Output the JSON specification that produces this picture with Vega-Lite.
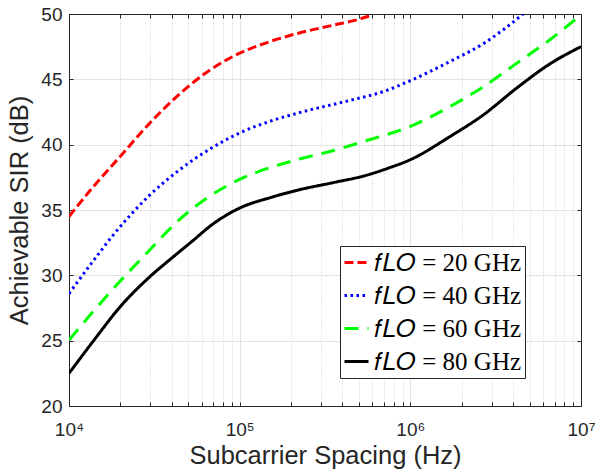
{
  "$schema": "https://vega.github.io/schema/vega-lite/v6.json",
  "width": 512,
  "height": 392,
  "autosize": {"type": "none"},
  "padding": {"left": 69, "top": 14, "right": 23, "bottom": 66},
  "background": "white",
  "config": {
    "view": {"stroke": null},
    "font": "Liberation Sans",
    "axis": {
      "domainColor": "#262626",
      "tickColor": "#262626",
      "labelColor": "#262626",
      "titleColor": "#262626",
      "labelFont": "Liberation Sans",
      "titleFont": "Liberation Sans",
      "titleFontWeight": "normal"
    }
  },
  "data": {
    "values": [
      {"s": "𝑓𝐿𝑂 = 20 GHz", "x": 10000, "y": 34.5},
      {"s": "𝑓𝐿𝑂 = 20 GHz", "x": 14125, "y": 36.9},
      {"s": "𝑓𝐿𝑂 = 20 GHz", "x": 19953, "y": 39.1},
      {"s": "𝑓𝐿𝑂 = 20 GHz", "x": 29512, "y": 41.6},
      {"s": "𝑓𝐿𝑂 = 20 GHz", "x": 44668, "y": 43.9},
      {"s": "𝑓𝐿𝑂 = 20 GHz", "x": 67608, "y": 45.75},
      {"s": "𝑓𝐿𝑂 = 20 GHz", "x": 100000, "y": 47.0},
      {"s": "𝑓𝐿𝑂 = 20 GHz", "x": 151356, "y": 47.9},
      {"s": "𝑓𝐿𝑂 = 20 GHz", "x": 223872, "y": 48.55},
      {"s": "𝑓𝐿𝑂 = 20 GHz", "x": 354813, "y": 49.15},
      {"s": "𝑓𝐿𝑂 = 20 GHz", "x": 501187, "y": 49.6},
      {"s": "𝑓𝐿𝑂 = 20 GHz", "x": 602560, "y": 49.95},

      {"s": "𝑓𝐿𝑂 = 40 GHz", "x": 10000, "y": 28.6},
      {"s": "𝑓𝐿𝑂 = 40 GHz", "x": 13490, "y": 30.9},
      {"s": "𝑓𝐿𝑂 = 40 GHz", "x": 18197, "y": 33.1},
      {"s": "𝑓𝐿𝑂 = 40 GHz", "x": 29512, "y": 36.1},
      {"s": "𝑓𝐿𝑂 = 40 GHz", "x": 44668, "y": 38.1},
      {"s": "𝑓𝐿𝑂 = 40 GHz", "x": 67608, "y": 39.7},
      {"s": "𝑓𝐿𝑂 = 40 GHz", "x": 100000, "y": 40.9},
      {"s": "𝑓𝐿𝑂 = 40 GHz", "x": 151356, "y": 41.8},
      {"s": "𝑓𝐿𝑂 = 40 GHz", "x": 223872, "y": 42.45},
      {"s": "𝑓𝐿𝑂 = 40 GHz", "x": 446684, "y": 43.4},
      {"s": "𝑓𝐿𝑂 = 40 GHz", "x": 707946, "y": 44.1},
      {"s": "𝑓𝐿𝑂 = 40 GHz", "x": 1000000, "y": 44.9},
      {"s": "𝑓𝐿𝑂 = 40 GHz", "x": 1698244, "y": 46.35},
      {"s": "𝑓𝐿𝑂 = 40 GHz", "x": 2691535, "y": 47.75},
      {"s": "𝑓𝐿𝑂 = 40 GHz", "x": 3548134, "y": 48.85},
      {"s": "𝑓𝐿𝑂 = 40 GHz", "x": 4570882, "y": 50.0},

      {"s": "𝑓𝐿𝑂 = 60 GHz", "x": 10000, "y": 25.05},
      {"s": "𝑓𝐿𝑂 = 60 GHz", "x": 13183, "y": 26.9},
      {"s": "𝑓𝐿𝑂 = 60 GHz", "x": 17378, "y": 28.7},
      {"s": "𝑓𝐿𝑂 = 60 GHz", "x": 29512, "y": 31.9},
      {"s": "𝑓𝐿𝑂 = 60 GHz", "x": 44668, "y": 34.3},
      {"s": "𝑓𝐿𝑂 = 60 GHz", "x": 67608, "y": 36.1},
      {"s": "𝑓𝐿𝑂 = 60 GHz", "x": 100000, "y": 37.35},
      {"s": "𝑓𝐿𝑂 = 60 GHz", "x": 151356, "y": 38.25},
      {"s": "𝑓𝐿𝑂 = 60 GHz", "x": 223872, "y": 38.9},
      {"s": "𝑓𝐿𝑂 = 60 GHz", "x": 354813, "y": 39.55},
      {"s": "𝑓𝐿𝑂 = 60 GHz", "x": 549541, "y": 40.3},
      {"s": "𝑓𝐿𝑂 = 60 GHz", "x": 1000000, "y": 41.4},
      {"s": "𝑓𝐿𝑂 = 60 GHz", "x": 1698244, "y": 42.9},
      {"s": "𝑓𝐿𝑂 = 60 GHz", "x": 2691535, "y": 44.45},
      {"s": "𝑓𝐿𝑂 = 60 GHz", "x": 4168694, "y": 46.2},
      {"s": "𝑓𝐿𝑂 = 60 GHz", "x": 6606934, "y": 48.05},
      {"s": "𝑓𝐿𝑂 = 60 GHz", "x": 10000000, "y": 49.95},

      {"s": "𝑓𝐿𝑂 = 80 GHz", "x": 10000, "y": 22.5},
      {"s": "𝑓𝐿𝑂 = 80 GHz", "x": 14125, "y": 25.1},
      {"s": "𝑓𝐿𝑂 = 80 GHz", "x": 19953, "y": 27.6},
      {"s": "𝑓𝐿𝑂 = 80 GHz", "x": 29512, "y": 29.85},
      {"s": "𝑓𝐿𝑂 = 80 GHz", "x": 39811, "y": 31.3},
      {"s": "𝑓𝐿𝑂 = 80 GHz", "x": 53703, "y": 32.7},
      {"s": "𝑓𝐿𝑂 = 80 GHz", "x": 67608, "y": 33.8},
      {"s": "𝑓𝐿𝑂 = 80 GHz", "x": 100000, "y": 35.15},
      {"s": "𝑓𝐿𝑂 = 80 GHz", "x": 151356, "y": 35.95},
      {"s": "𝑓𝐿𝑂 = 80 GHz", "x": 223872, "y": 36.55},
      {"s": "𝑓𝐿𝑂 = 80 GHz", "x": 354813, "y": 37.1},
      {"s": "𝑓𝐿𝑂 = 80 GHz", "x": 549541, "y": 37.65},
      {"s": "𝑓𝐿𝑂 = 80 GHz", "x": 741310, "y": 38.2},
      {"s": "𝑓𝐿𝑂 = 80 GHz", "x": 1000000, "y": 38.85},
      {"s": "𝑓𝐿𝑂 = 80 GHz", "x": 1698244, "y": 40.6},
      {"s": "𝑓𝐿𝑂 = 80 GHz", "x": 2691535, "y": 42.3},
      {"s": "𝑓𝐿𝑂 = 80 GHz", "x": 4168694, "y": 44.3},
      {"s": "𝑓𝐿𝑂 = 80 GHz", "x": 6606934, "y": 46.2},
      {"s": "𝑓𝐿𝑂 = 80 GHz", "x": 10000000, "y": 47.5}
    ]
  },
  "resolve": {"axis": {"x": "independent", "y": "independent"}},
  "layer": [
    {
      "mark": {"type": "line", "strokeWidth": 3, "interpolate": "monotone", "clip": true},
      "encoding": {
        "x": {
          "field": "x", "type": "quantitative",
          "scale": {"type": "log", "domain": [10000, 10000000], "nice": false},
          "axis": {
            "orient": "bottom",
            "values": [10000, 20000, 30000, 40000, 50000, 60000, 70000, 80000, 90000, 100000, 200000, 300000, 400000, 500000, 600000, 700000, 800000, 900000, 1000000, 2000000, 3000000, 4000000, 5000000, 6000000, 7000000, 8000000, 9000000, 10000000],
            "labelExpr": "datum.value == 10000 ? '10⁴' : datum.value == 100000 ? '10⁵' : datum.value == 1000000 ? '10⁶' : datum.value == 10000000 ? '10⁷' : ''",
            "labelFontSize": 19,
            "labelPadding": 18,
            "labelFlush": false,
            "labelOverlap": false,
            "tickSize": -4,
            "grid": true,
            "gridColor": {"condition": {"test": "datum.value == 100000 || datum.value == 1000000", "value": "#e2e2e2"}, "value": "#cfcfcf"},
            "gridDash": {"condition": {"test": "datum.value == 100000 || datum.value == 1000000", "value": []}, "value": [1, 2]},
            "domainColor": "#262626",
            "title": "Subcarrier Spacing (Hz)",
            "titleFontSize": 25.5,
            "titlePadding": 4
          }
        },
        "y": {
          "field": "y", "type": "quantitative",
          "scale": {"domain": [20, 50], "nice": false, "zero": false},
          "axis": {
            "orient": "left",
            "values": [20, 25, 30, 35, 40, 45, 50],
            "labelFontSize": 19,
            "labelPadding": 11,
            "tickSize": -4,
            "grid": true,
            "gridColor": "#e2e2e2",
            "title": "Achievable SIR (dB)",
            "titleFontSize": 25.5,
            "titlePadding": 8
          }
        },
        "color": {
          "field": "s", "type": "nominal",
          "scale": {"domain": ["𝑓𝐿𝑂 = 20 GHz", "𝑓𝐿𝑂 = 40 GHz", "𝑓𝐿𝑂 = 60 GHz", "𝑓𝐿𝑂 = 80 GHz"], "range": ["#ff0000", "#0000ff", "#00ff00", "#000000"]},
          "legend": {
            "title": null,
            "orient": "none",
            "legendX": 271,
            "legendY": 232,
            "symbolType": "stroke",
            "symbolSize": 576,
            "symbolStrokeWidth": 3,
            "labelFont": "Liberation Serif",
            "labelFontSize": 25,
            "labelColor": "#000000",
            "labelLimit": 300,
            "labelOffset": 4,
            "rowPadding": 6,
            "padding": 3,
            "strokeColor": "#262626",
            "fillColor": "white"
          }
        },
        "strokeDash": {
          "field": "s", "type": "nominal",
          "scale": {"domain": ["𝑓𝐿𝑂 = 20 GHz", "𝑓𝐿𝑂 = 40 GHz", "𝑓𝐿𝑂 = 60 GHz", "𝑓𝐿𝑂 = 80 GHz"], "range": [[9, 4], [2.5, 3.5], [14, 9], [1, 0]]},
          "legend": null
        }
      }
    },
    {
      "mark": {"type": "line", "opacity": 0},
      "encoding": {
        "x": {
          "field": "x", "type": "quantitative",
          "axis": {
            "orient": "top",
            "values": [10000, 20000, 30000, 40000, 50000, 60000, 70000, 80000, 90000, 100000, 200000, 300000, 400000, 500000, 600000, 700000, 800000, 900000, 1000000, 2000000, 3000000, 4000000, 5000000, 6000000, 7000000, 8000000, 9000000, 10000000],
            "labels": false,
            "tickSize": -4,
            "grid": false,
            "title": null,
            "domainColor": "#262626"
          }
        },
        "y": {
          "field": "y", "type": "quantitative",
          "axis": {
            "orient": "right",
            "values": [20, 25, 30, 35, 40, 45, 50],
            "labels": false,
            "tickSize": -4,
            "grid": false,
            "title": null,
            "domainColor": "#262626"
          }
        },
        "detail": {"field": "s", "type": "nominal"}
      }
    }
  ]
}
